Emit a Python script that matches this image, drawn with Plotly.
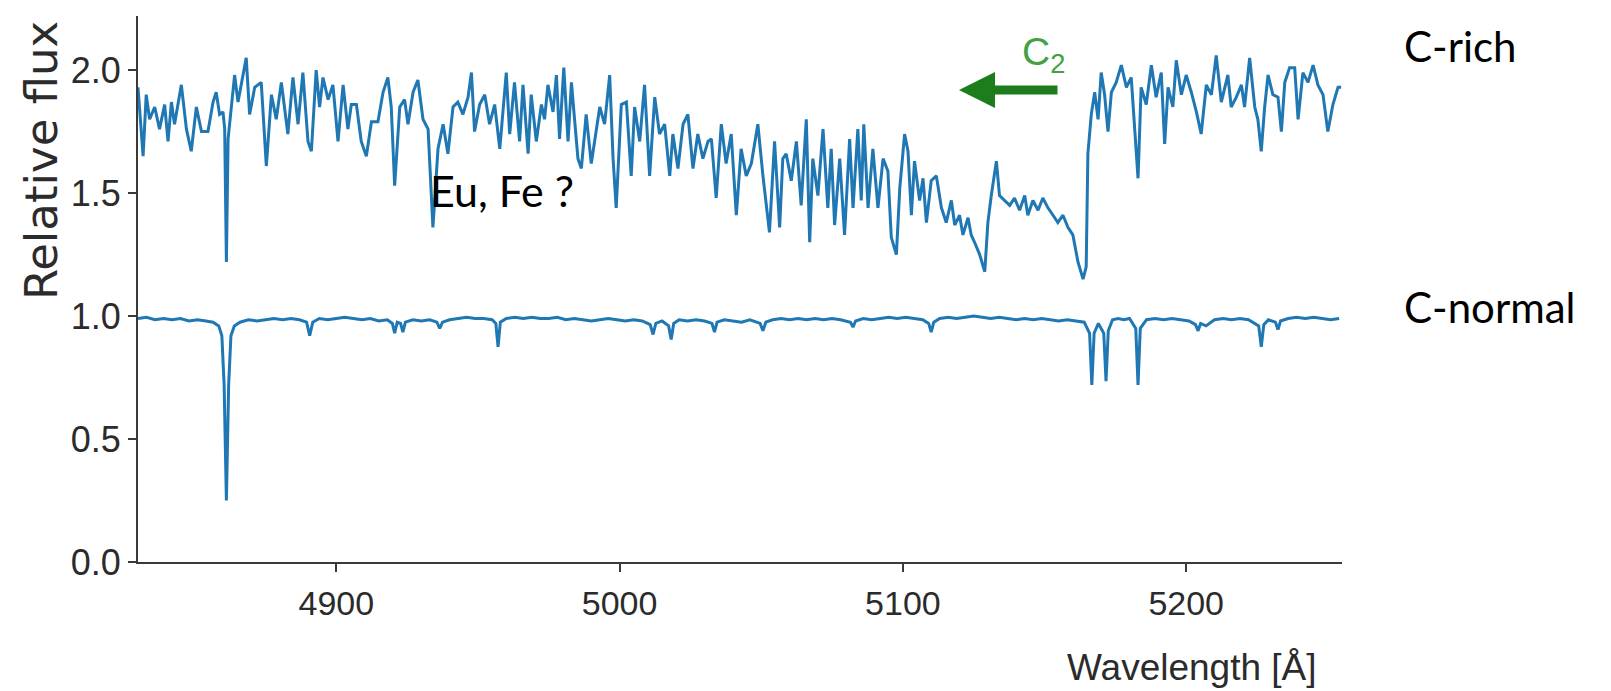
import plotly.graph_objects as go

# ---------------- data ----------------
c_rich_wavelength = [
    4830.0, 4831.8, 4832.9, 4834.1, 4835.9, 4837.6, 4839.4, 4840.6, 4841.8, 4842.9,
    4845.3, 4847.1, 4848.8, 4850.6, 4852.4, 4854.7, 4856.5, 4857.6, 4858.8, 4860.0,
    4860.6, 4861.2, 4861.8, 4864.1, 4865.3, 4866.5, 4868.2, 4869.4, 4871.2, 4873.5,
    4875.3, 4877.1, 4878.8, 4880.6, 4882.9, 4884.7, 4886.5, 4888.2, 4890.0, 4891.2,
    4892.9, 4894.1, 4895.3, 4897.1, 4898.8, 4900.6, 4902.4, 4904.1, 4905.3, 4907.1,
    4908.8, 4910.6, 4912.4, 4914.7, 4916.5, 4918.2, 4919.4, 4920.6, 4922.4, 4924.1,
    4925.3, 4927.1, 4928.8, 4930.6, 4932.4, 4934.1, 4935.9, 4937.7, 4939.4, 4941.2,
    4942.9, 4944.7, 4946.5, 4947.7, 4948.8, 4950.6, 4952.4, 4954.1, 4955.9, 4957.7,
    4960.0, 4961.2, 4962.9, 4964.7, 4965.9, 4967.7, 4968.8, 4970.6, 4972.4, 4973.5,
    4974.7, 4976.5, 4977.7, 4978.8, 4980.3, 4981.8, 4983.0, 4984.1, 4985.3, 4986.5,
    4988.2, 4990.0, 4991.2, 4993.0, 4994.7, 4996.5, 4997.7, 4998.8, 5000.6, 5002.4,
    5004.1, 5005.3, 5007.1, 5008.8, 5010.6, 5012.4, 5014.1, 5015.9, 5017.7, 5018.8,
    5020.6, 5022.4, 5024.1, 5025.9, 5027.6, 5029.4, 5031.2, 5032.4, 5034.1, 5035.9,
    5037.6, 5039.4, 5041.2, 5042.9, 5044.7, 5046.5, 5048.8, 5050.6, 5052.9, 5054.7,
    5056.5, 5057.6, 5058.8, 5060.6, 5062.4, 5064.1, 5065.9, 5067.1, 5068.2, 5070.0,
    5071.8, 5073.5, 5074.7, 5075.9, 5077.7, 5079.4, 5081.2, 5082.4, 5084.1, 5085.3,
    5086.2, 5087.7, 5089.4, 5091.2, 5093.0, 5094.7, 5095.9, 5097.7, 5098.9, 5100.6,
    5101.8, 5103.0, 5104.1, 5105.9, 5107.1, 5108.3, 5110.0, 5111.8, 5113.6, 5115.3,
    5117.1, 5118.3, 5120.0, 5121.2, 5123.0, 5124.1, 5125.3, 5127.1, 5128.9, 5130.0,
    5131.2, 5133.0, 5134.1, 5135.9, 5137.7, 5139.4, 5141.2, 5143.0, 5144.1, 5145.9,
    5147.7, 5149.4, 5151.2, 5153.0, 5154.7, 5156.5, 5158.3, 5160.0, 5161.8, 5163.6,
    5164.7, 5165.3, 5166.5, 5167.7, 5168.9, 5170.0, 5171.2, 5172.4, 5173.6, 5175.3,
    5177.1, 5178.9, 5180.6, 5183.0, 5184.1, 5185.9, 5187.7, 5189.4, 5191.2, 5192.4,
    5193.6, 5195.3, 5196.5, 5198.3, 5200.0, 5201.8, 5203.6, 5205.3, 5207.1, 5208.9,
    5210.6, 5212.4, 5214.7, 5215.9, 5217.7, 5219.5, 5220.6, 5222.4, 5224.2, 5225.3,
    5226.5, 5227.7, 5228.9, 5230.6, 5232.4, 5233.6, 5234.8, 5236.5, 5238.3, 5239.5,
    5241.2, 5243.0, 5244.8, 5246.5, 5248.3, 5250.0, 5251.8, 5253.6, 5254.7,
]
c_rich_flux = [
    1.93, 1.65, 1.90, 1.80, 1.85, 1.76, 1.86, 1.71, 1.87, 1.78,
    1.94, 1.76, 1.67, 1.85, 1.75, 1.75, 1.87, 1.91, 1.82, 1.83,
    1.76, 1.22, 1.72, 1.98, 1.87, 1.94, 2.05, 1.82, 1.93, 1.95,
    1.61, 1.90, 1.80, 1.95, 1.74, 1.97, 1.78, 1.99, 1.71, 1.67,
    2.00, 1.85, 1.97, 1.88, 1.94, 1.71, 1.94, 1.76, 1.86, 1.86,
    1.71, 1.65, 1.79, 1.79, 1.91, 1.97, 1.85, 1.53, 1.85, 1.88,
    1.78, 1.91, 1.96, 1.80, 1.76, 1.36, 1.68, 1.78, 1.66, 1.85,
    1.87, 1.82, 1.89, 1.99, 1.75, 1.86, 1.90, 1.78, 1.86, 1.68,
    1.99, 1.74, 1.95, 1.71, 1.94, 1.66, 1.90, 1.71, 1.86, 1.80,
    1.94, 1.83, 1.98, 1.72, 2.01, 1.71, 1.95, 1.80, 1.64, 1.60,
    1.82, 1.62, 1.71, 1.85, 1.78, 1.98, 1.64, 1.44, 1.86, 1.87,
    1.57, 1.85, 1.71, 1.94, 1.57, 1.89, 1.74, 1.78, 1.57, 1.74,
    1.60, 1.78, 1.82, 1.60, 1.74, 1.64, 1.71, 1.72, 1.48, 1.78,
    1.62, 1.74, 1.41, 1.68, 1.57, 1.62, 1.78, 1.57, 1.34, 1.71,
    1.36, 1.64, 1.66, 1.55, 1.71, 1.45, 1.80, 1.30, 1.64, 1.49,
    1.76, 1.44, 1.68, 1.37, 1.64, 1.33, 1.72, 1.44, 1.76, 1.47,
    1.78, 1.44, 1.68, 1.44, 1.64, 1.59, 1.32, 1.25, 1.52, 1.74,
    1.67, 1.41, 1.63, 1.47, 1.56, 1.38, 1.55, 1.57, 1.44, 1.38,
    1.47, 1.37, 1.41, 1.33, 1.40, 1.33, 1.30, 1.25, 1.18, 1.38,
    1.49, 1.63, 1.49, 1.47, 1.45, 1.48, 1.43, 1.49, 1.41, 1.47,
    1.43, 1.48, 1.44, 1.41, 1.38, 1.41, 1.36, 1.33, 1.22, 1.15,
    1.20, 1.66, 1.82, 1.91, 1.80, 1.99, 1.90, 1.75, 1.91, 1.95,
    2.02, 1.93, 1.97, 1.56, 1.93, 1.86, 2.02, 1.89, 1.99, 1.70,
    1.93, 1.85, 2.04, 1.90, 1.98, 1.91, 1.83, 1.74, 1.94, 1.90,
    2.06, 1.87, 1.98, 1.85, 1.89, 1.94, 1.85, 2.05, 1.85, 1.80,
    1.67, 1.85, 1.98, 1.90, 1.89, 1.75, 1.95, 2.01, 2.01, 1.80,
    1.99, 1.95, 2.02, 1.94, 1.90, 1.75, 1.86, 1.93, 1.93,
]

c_normal_wavelength = [
    4830, 4833, 4836, 4839, 4842, 4845, 4848, 4851, 4854, 4856.5,
    4858.5, 4859.6, 4860.4, 4861.2, 4862.0, 4862.8, 4864, 4866, 4869, 4872,
    4875, 4878, 4881, 4884, 4887, 4889.5, 4890.6, 4891.7, 4894, 4897,
    4900, 4903, 4906, 4909, 4912, 4915, 4918, 4919.8, 4920.6, 4921.5,
    4922.7, 4923.5, 4924.4, 4927, 4930, 4933, 4935.5, 4936.5, 4937.5, 4940,
    4943, 4946, 4949, 4952, 4955, 4956.3, 4957.1, 4957.9, 4960, 4963,
    4966, 4969, 4972, 4975, 4978, 4981, 4984, 4987, 4990, 4993,
    4996, 4999, 5002, 5005, 5008, 5010.8, 5011.8, 5012.8, 5015, 5017.3,
    5018.2, 5019.1, 5021, 5024, 5027, 5030, 5032.6, 5033.5, 5034.4, 5037,
    5040, 5043, 5046, 5049.6, 5050.6, 5051.6, 5054, 5057, 5060, 5063,
    5066, 5069, 5072, 5075, 5078, 5081.5, 5082.4, 5083.3, 5086, 5089,
    5092, 5095, 5098, 5101, 5104, 5107, 5109.1, 5110, 5110.9, 5113,
    5116, 5119, 5122, 5125, 5128, 5131, 5134, 5137, 5140, 5143,
    5146, 5149, 5152, 5155, 5158, 5161, 5164, 5165.9, 5166.7, 5167.5,
    5169, 5170.9, 5171.7, 5172.5, 5174, 5176, 5178, 5180, 5182.2, 5183.0,
    5183.8, 5186, 5189, 5192, 5195, 5198, 5201, 5203.3, 5204.2, 5205.1,
    5207, 5210, 5213, 5216, 5219, 5222, 5225.6, 5226.5, 5227.4, 5229,
    5231.5, 5232.4, 5233.3, 5236, 5239, 5242, 5245, 5248, 5251, 5254,
]
c_normal_flux = [
    0.99, 0.995, 0.985, 0.99, 0.985, 0.99, 0.98, 0.985, 0.98, 0.975,
    0.96, 0.92, 0.72, 0.25, 0.72, 0.92, 0.96, 0.975, 0.985, 0.98,
    0.985, 0.99, 0.985, 0.99, 0.985, 0.975, 0.92, 0.975, 0.99, 0.985,
    0.99, 0.995, 0.99, 0.985, 0.99, 0.98, 0.985, 0.97, 0.93, 0.975,
    0.97, 0.935, 0.975, 0.985, 0.98, 0.985, 0.975, 0.95, 0.975, 0.985,
    0.99, 0.995, 0.99, 0.99, 0.985, 0.97, 0.875, 0.975, 0.99, 0.995,
    0.99, 0.995, 0.99, 0.99, 0.995, 0.985, 0.99, 0.985, 0.98, 0.985,
    0.99, 0.985, 0.98, 0.985, 0.98, 0.965, 0.925, 0.97, 0.98, 0.96,
    0.905, 0.97, 0.985, 0.98, 0.985, 0.98, 0.97, 0.935, 0.975, 0.985,
    0.98, 0.975, 0.985, 0.97, 0.94, 0.975, 0.985, 0.99, 0.985, 0.99,
    0.985, 0.99, 0.985, 0.99, 0.985, 0.975, 0.955, 0.98, 0.99, 0.985,
    0.99, 0.995, 0.99, 0.995, 0.99, 0.985, 0.97, 0.935, 0.975, 0.99,
    0.995, 0.99, 0.995, 1.0, 0.995, 0.99, 0.995, 0.99, 0.985, 0.99,
    0.985, 0.99, 0.985, 0.98, 0.985, 0.98, 0.975, 0.93, 0.72, 0.93,
    0.97, 0.93, 0.735, 0.94, 0.985, 0.99, 0.985, 0.99, 0.95, 0.72,
    0.95, 0.985, 0.99, 0.985, 0.99, 0.985, 0.98, 0.965, 0.94, 0.97,
    0.96, 0.985, 0.99, 0.985, 0.99, 0.985, 0.96, 0.875, 0.965, 0.985,
    0.975, 0.945, 0.98, 0.99, 0.995, 0.99, 0.995, 0.99, 0.985, 0.99,
]

x_ticks = [4900, 5000, 5100, 5200]
y_ticks = [0.0, 0.5, 1.0, 1.5, 2.0]
y_tick_labels = ["0.0", "0.5", "1.0", "1.5", "2.0"]

assert len(c_rich_wavelength) == len(c_rich_flux)
assert len(c_normal_wavelength) == len(c_normal_flux)

# ---------------- figure ----------------
LINE_BLUE = "#1f77b4"
AXIS_GREY = "#3a3a3a"
TEXT_GREY = "#2b2b2b"
SANS = "Liberation Sans, Arial, sans-serif"
CALIBRI_LIKE = "Lato, Carlito, Open Sans, sans-serif"

fig = go.Figure()
fig.add_trace(go.Scatter(x=c_rich_wavelength, y=c_rich_flux, mode="lines",
                         line=dict(color=LINE_BLUE, width=3), name="C-rich",
                         showlegend=False))
fig.add_trace(go.Scatter(x=c_normal_wavelength, y=c_normal_flux, mode="lines",
                         line=dict(color=LINE_BLUE, width=3), name="C-normal",
                         showlegend=False))

fig.update_layout(
    width=1611, height=691,
    margin=dict(l=130, r=277, t=8, b=137, pad=0),
    paper_bgcolor="white", plot_bgcolor="white",
    font=dict(family=SANS, color=TEXT_GREY),
)
fig.update_xaxes(
    range=[4830, 5255], tickvals=x_ticks,
    showline=True, linecolor=AXIS_GREY, linewidth=2, mirror=False,
    ticks="outside", ticklen=8, tickwidth=1.5, tickcolor=AXIS_GREY,
    showgrid=False, zeroline=False,
    tickfont=dict(size=34, family=SANS, color=TEXT_GREY),
    ticklabelstandoff=2,
)
fig.update_yaxes(
    range=[0, 2.22], tickvals=y_ticks, ticktext=y_tick_labels,
    showline=True, linecolor=AXIS_GREY, linewidth=2, mirror=False,
    ticks="outside", ticklen=8, tickwidth=1.5, tickcolor=AXIS_GREY,
    showgrid=False, zeroline=False,
    tickfont=dict(size=36, family=SANS, color=TEXT_GREY),
)

annotations = [
    dict(text="Relative flux", xref="paper", yref="paper", x=-0.0806, y=0.736,
         textangle=-90, showarrow=False, xanchor="center", yanchor="middle",
         font=dict(size=45, family="DejaVu Sans, sans-serif", color=TEXT_GREY)),
    dict(text="Wavelength [Å]", xref="paper", yref="paper", x=0.8754, y=-0.194,
         showarrow=False, xanchor="center", yanchor="middle",
         font=dict(size=37, family=SANS, color=TEXT_GREY)),
    dict(text="C-rich", xref="paper", yref="paper", x=1.0502, y=0.945,
         showarrow=False, xanchor="left", yanchor="middle",
         font=dict(size=42, family=CALIBRI_LIKE, color="black")),
    dict(text="C-normal", xref="paper", yref="paper", x=1.0498, y=0.467,
         showarrow=False, xanchor="left", yanchor="middle",
         font=dict(size=42, family=CALIBRI_LIKE, color="black")),
    dict(text="Eu, Fe ?", xref="paper", yref="paper", x=0.2409, y=0.6795,
         showarrow=False, xanchor="left", yanchor="middle",
         font=dict(size=43, family=CALIBRI_LIKE, color="black")),
    dict(text="C<sub>2</sub>", xref="paper", yref="paper", x=0.752, y=0.93,
         showarrow=False, xanchor="center", yanchor="middle",
         font=dict(size=39, family=SANS, color="#45a045")),
    dict(text="", xref="paper", yref="paper", x=0.6819, y=0.8645,
         axref="pixel", ayref="pixel", ax=100, ay=0,
         showarrow=True, arrowhead=2, arrowsize=0.8, arrowwidth=9,
         arrowcolor="#1d7d1d", standoff=0, startstandoff=0),
]
fig.update_layout(annotations=annotations)

fig.write_html("out.html")
